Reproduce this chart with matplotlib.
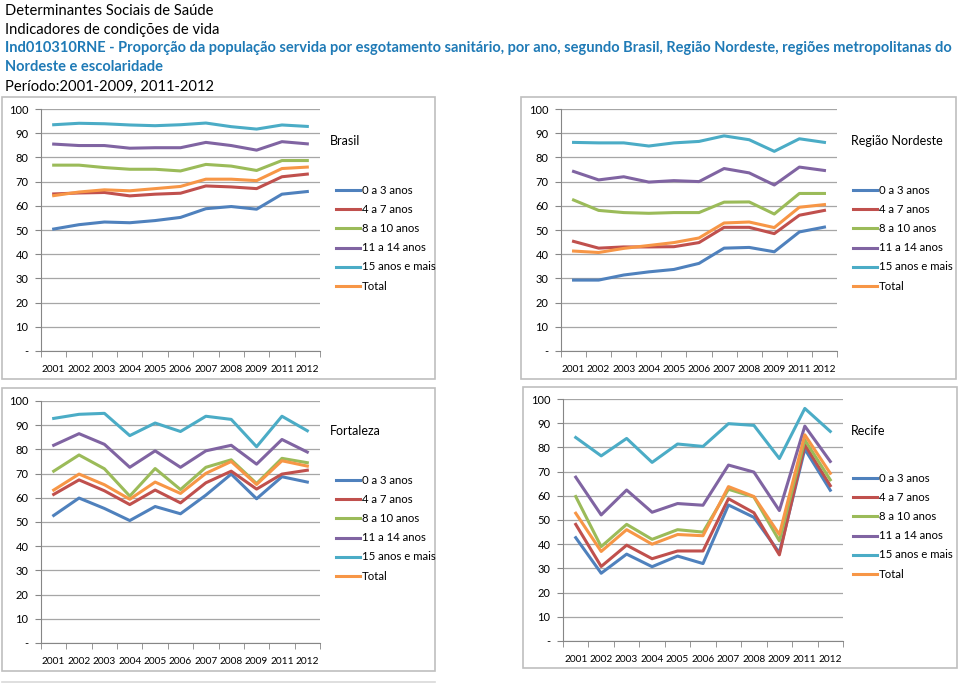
import numpy as np
import matplotlib.pyplot as plt
from matplotlib.patches import Rectangle
from matplotlib.lines import Line2D

plt.rcParams['font.family'] = ['Lato', 'DejaVu Sans']

years = ["2001", "2002", "2003", "2004", "2005", "2006", "2007", "2008", "2009", "2011", "2012"]
series_names = ["0 a 3 anos", "4 a 7 anos", "8 a 10 anos", "11 a 14 anos", "15 anos e mais", "Total"]
colors = ["#4F81BD", "#C0504D", "#9BBB59", "#8064A2", "#4BACC6", "#F79646"]

brasil = [
    [50.4, 52.2, 53.3, 53.0, 53.9, 55.2, 58.8, 59.7, 58.6, 64.8, 65.9],
    [64.9, 65.3, 65.5, 64.1, 64.8, 65.2, 68.2, 67.8, 67.1, 72.0, 73.1],
    [76.8, 76.8, 75.8, 75.1, 75.1, 74.4, 77.1, 76.4, 74.6, 78.7, 78.7],
    [85.5, 84.9, 84.9, 83.8, 84.0, 84.0, 86.2, 84.9, 83.0, 86.5, 85.6],
    [93.5, 94.1, 93.9, 93.4, 93.1, 93.5, 94.2, 92.7, 91.7, 93.4, 92.8],
    [64.2, 65.7, 66.6, 66.2, 67.1, 68.0, 71.0, 71.0, 70.4, 75.4, 76.0],
]
nordeste = [
    [29.3, 29.3, 31.4, 32.7, 33.7, 36.2, 42.5, 42.8, 41.0, 49.2, 51.2],
    [45.3, 42.5, 43.0, 43.0, 43.1, 44.8, 51.1, 51.1, 48.5, 56.1, 58.1],
    [62.4, 58.1, 57.2, 56.9, 57.2, 57.2, 61.5, 61.6, 56.6, 65.1, 65.1],
    [74.2, 70.7, 72.0, 69.8, 70.4, 70.0, 75.4, 73.6, 68.6, 76.0, 74.6],
    [86.2, 86.0, 86.0, 84.7, 86.0, 86.6, 88.9, 87.3, 82.5, 87.7, 86.2],
    [41.3, 40.7, 42.4, 43.6, 44.8, 46.7, 52.9, 53.3, 51.0, 59.4, 60.5],
]
fortaleza = [
    [52.7, 59.9, 55.6, 50.6, 56.4, 53.4, 61.1, 69.8, 59.6, 68.7, 66.5],
    [61.4, 67.4, 62.9, 57.2, 63.2, 57.9, 66.2, 71.0, 63.6, 69.8, 71.4],
    [71.0, 77.7, 72.0, 60.7, 72.1, 63.4, 72.6, 75.7, 65.9, 76.3, 74.5],
    [81.7, 86.5, 82.1, 72.6, 79.4, 72.6, 79.4, 81.7, 73.9, 84.1, 78.9],
    [92.8, 94.5, 94.9, 85.7, 90.9, 87.4, 93.7, 92.4, 81.1, 93.7, 87.7],
    [63.2, 69.8, 65.4, 59.4, 66.5, 61.8, 70.1, 75.0, 65.5, 75.3, 73.1],
]
recife = [
    [42.7, 28.0, 35.9, 30.7, 35.1, 32.0, 56.2, 51.1, 36.5, 79.3, 62.3],
    [48.2, 30.8, 39.6, 34.0, 37.2, 37.2, 58.8, 53.0, 35.6, 81.1, 64.2],
    [59.7, 39.0, 48.2, 42.0, 46.0, 45.0, 62.7, 59.5, 41.4, 83.1, 66.6],
    [67.7, 52.1, 62.4, 53.2, 56.8, 56.1, 72.7, 69.8, 53.9, 88.8, 74.2],
    [84.1, 76.5, 83.7, 73.8, 81.4, 80.4, 89.8, 89.1, 75.4, 96.1, 86.6],
    [52.8, 37.0, 46.0, 40.0, 44.0, 43.5, 63.8, 59.7, 44.0, 85.2, 69.3],
]

W, H = 960, 684
fig = plt.figure(figsize=(W / 100, H / 100), dpi=100)


def fx(x):
    return x / W


def fy(y):
    return 1 - y / H


# header
header = [
    ("Determinantes Sociais de Saúde", 11, "#000000", "normal", 10.6),
    ("Indicadores de condições de vida", 30, "#000000", "normal", 10.6),
    ("Ind010310RNE - Proporção da população servida por esgotamento sanitário, por ano, segundo Brasil, Região Nordeste, regiões metropolitanas do", 48, "#1F7AB6", "bold", 10.5),
    ("Nordeste e escolaridade", 67, "#1F7AB6", "bold", 10.5),
    ("Período:2001-2009, 2011-2012", 87, "#000000", "normal", 10.6),
]
for txt, y, c, w, fs in header:
    fig.text(fx(5), fy(y), txt, fontsize=fs, color=c, fontweight=w, va="center", ha="left")

# panel boxes
boxes = [(2, 97, 435, 379), (521, 97, 956, 379), (2, 388, 435, 671), (523, 387, 957, 668)]
for x0, y0, x1, y1 in boxes:
    fig.patches.append(Rectangle((fx(x0), fy(y1)), fx(x1 - x0), (y1 - y0) / H,
                                 transform=fig.transFigure, fill=False, edgecolor="#BFBFBF", lw=1.2))
fig.add_artist(Line2D([fx(2), fx(435)], [fy(682), fy(682)], color="#D9D9D9", lw=1.2))

panels = [
    ("Brasil", brasil, (41, 320, 109, 351), (330, 141), (336, 190)),
    ("Região Nordeste", nordeste, (561, 837, 109, 351), (851, 141), (853, 190)),
    ("Fortaleza", fortaleza, (41, 320, 401, 643), (330, 431), (336, 480)),
    ("Recife", recife, (563, 843, 399, 641), (851, 431), (853, 478)),
]
leg_step = 19.2

x = np.arange(len(years))
for name, data, (ax0, ax1, ay0, ay1), (tx, ty), (lx, ly) in panels:
    ax = fig.add_axes([fx(ax0), fy(ay1), fx(ax1 - ax0), (ay1 - ay0) / H])
    for vals, lab, c in zip(data, series_names, colors):
        ax.plot(x, vals, color=c, lw=2.2, label=lab, solid_joinstyle="round")
    ax.set_xlim(-0.5, len(years) - 0.5)
    ax.set_ylim(0, 100)
    ax.set_yticks(np.arange(0, 101, 10))
    ax.set_yticklabels(["-"] + [str(v) for v in range(10, 101, 10)])
    ax.set_xticks(x)
    ax.set_xticklabels(years)
    ax.set_xticks(np.arange(-0.5, len(years), 1), minor=True)
    ax.tick_params(axis="x", which="major", length=0, pad=10, labelsize=7.3)
    ax.tick_params(axis="x", which="minor", length=4, color="#868686")
    ax.tick_params(axis="y", length=4, color="#868686", labelsize=8, pad=5)
    ax.yaxis.grid(True, color="#A6A6A6", lw=0.9)
    ax.set_axisbelow(True)
    for s in ["top", "right"]:
        ax.spines[s].set_visible(False)
    for s in ["left", "bottom"]:
        ax.spines[s].set_color("#868686")
    fig.text(fx(tx), fy(ty), name, fontsize=9, va="center", ha="left")
    # legend, drawn entry by entry
    for i, (lab, c) in enumerate(zip(series_names, colors)):
        yy = ly + i * leg_step
        fig.add_artist(Line2D([fx(lx), fx(lx + 24)], [fy(yy), fy(yy)], color=c, lw=2.2))
        fig.text(fx(lx + 26), fy(yy), lab, fontsize=8.2, va="center", ha="left")

fig.savefig("out.png", dpi=100)
